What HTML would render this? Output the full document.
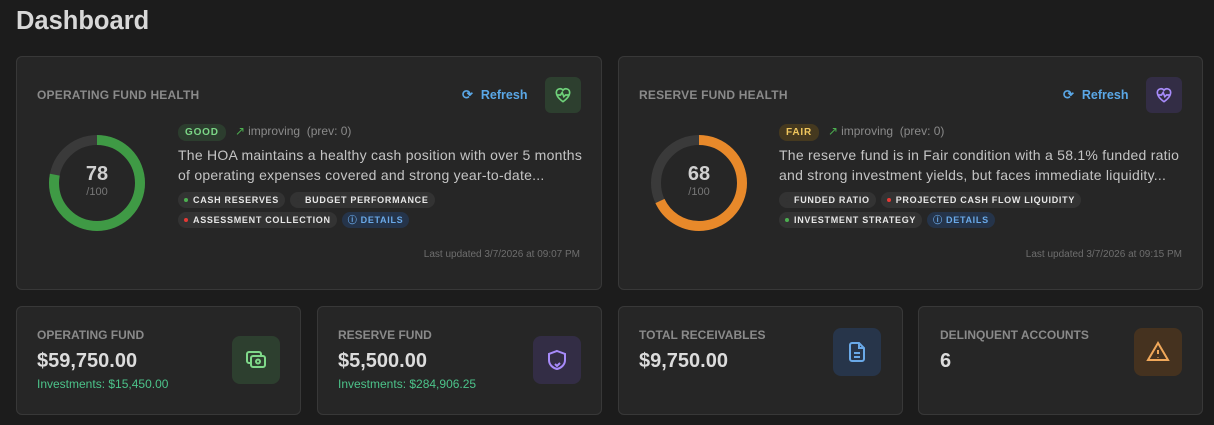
<!DOCTYPE html>
<html><head><style>
*{margin:0;padding:0;box-sizing:border-box}
body{width:1214px;height:425px;background:#1c1c1c;font-family:"Liberation Sans",sans-serif;position:relative;overflow:hidden;color:#ddd}
.a{position:absolute;white-space:nowrap}
.card{position:absolute;background:#262626;border:1px solid #383838;border-radius:6px}
.h{font-size:12px;font-weight:bold;color:#8a8a8a;letter-spacing:.2px}
.ref{font-size:12.5px;font-weight:bold;color:#5aa7e6}
.ib{position:absolute;width:36px;height:36px;border-radius:6px;display:flex;align-items:center;justify-content:center}
.badge{font-size:10px;font-weight:bold;letter-spacing:.8px;padding:3px 7px;border-radius:8px}
.imp{font-size:12px;color:#8a8a8a}
.desc{font-size:14px;color:#c4c4c4;line-height:20px;white-space:normal;letter-spacing:.25px}
.row{position:absolute;display:flex;gap:5px}
.tag{height:16px;border-radius:8px;background:#333;font-size:9px;font-weight:bold;letter-spacing:.7px;color:#e6e6e6;padding:0 6px;line-height:16px;white-space:nowrap}
.dot{display:inline-block;width:4px;height:4px;border-radius:50%;margin-right:5px;vertical-align:middle;position:relative;top:-1px}
.upd{font-size:10px;color:#6e6e6e}
.lab{font-size:12px;font-weight:bold;color:#8a8a8a}
.val{font-size:20px;font-weight:bold;color:#dcdcdc}
.inv{font-size:12px;color:#4cc38a}
.big{position:absolute;width:48px;height:48px;border-radius:8px;display:flex;align-items:center;justify-content:center}
</style></head><body>
<div class="a" style="left:16px;top:7px;font-size:25.5px;font-weight:bold;color:#d8d8d8">Dashboard</div>

<div class="card" style="left:16px;top:56px;width:586px;height:234px"></div>
<div class="card" style="left:618px;top:56px;width:585px;height:234px"></div>

<!-- Operating -->
<div class="a h" style="left:37px;top:88px">OPERATING FUND HEALTH</div>
<div class="a ref" style="left:462px;top:87px"><span style="font-size:13px;margin-right:8px">⟳</span>Refresh</div>
<div class="ib" style="left:545px;top:77px;background:#2d3f2f">
<svg width="20" height="20" viewBox="0 0 24 24" fill="none" stroke="#6fd27a" stroke-width="2"><path d="M12 20s-8-5-8-11a4.5 4.5 0 0 1 8-2.8A4.5 4.5 0 0 1 20 9c0 6-8 11-8 11z"/><path d="M5 12h4l2-3 2 5 2-2h4"/></svg></div>
<svg class="a" style="left:49px;top:135px" width="96" height="96"><circle cx="48" cy="48" r="43" fill="none" stroke="#3a3a3a" stroke-width="10"/><circle cx="48" cy="48" r="43" fill="none" stroke="#3f9a45" stroke-width="10" stroke-dasharray="210.7 270.2" transform="rotate(-90 48 48)"/></svg>
<div class="a" style="left:49px;top:163px;width:96px;text-align:center;font-size:20px;font-weight:bold;color:#d0d0d0">78</div>
<div class="a" style="left:49px;top:186px;width:96px;text-align:center;font-size:11px;color:#777">/100</div>
<div class="a badge" style="left:178px;top:124px;background:#2c3d2e;color:#7bd686">GOOD</div>
<div class="a imp" style="left:235px;top:124px"><span style="color:#4caf50;margin-right:3px">↗</span>improving&nbsp; (prev: 0)</div>
<div class="a desc" style="left:178px;top:145px;width:408px">The HOA maintains a healthy cash position with over 5 months of operating expenses covered and strong year-to-date...</div>
<div class="row" style="left:178px;top:192px"><div class="tag"><span class="dot" style="background:#4caf50"></span>CASH RESERVES</div><div class="tag"><span class="dot" style="background:#333"></span>BUDGET PERFORMANCE</div></div>
<div class="row" style="left:178px;top:212px"><div class="tag"><span class="dot" style="background:#e53935"></span>ASSESSMENT COLLECTION</div><div class="tag" style="background:#25344a;color:#6aa9e8">ⓘ DETAILS</div></div>
<div class="a upd" style="right:634px;top:249px">Last updated 3/7/2026 at 09:07 PM</div>

<!-- Reserve -->
<div class="a h" style="left:639px;top:88px">RESERVE FUND HEALTH</div>
<div class="a ref" style="left:1063px;top:87px"><span style="font-size:13px;margin-right:8px">⟳</span>Refresh</div>
<div class="ib" style="left:1146px;top:77px;background:#332d45">
<svg width="20" height="20" viewBox="0 0 24 24" fill="none" stroke="#a78bfa" stroke-width="2"><path d="M12 20s-8-5-8-11a4.5 4.5 0 0 1 8-2.8A4.5 4.5 0 0 1 20 9c0 6-8 11-8 11z"/><path d="M5 12h4l2-3 2 5 2-2h4"/></svg></div>
<svg class="a" style="left:651px;top:135px" width="96" height="96"><circle cx="48" cy="48" r="43" fill="none" stroke="#3a3a3a" stroke-width="10"/><circle cx="48" cy="48" r="43" fill="none" stroke="#e8892a" stroke-width="10" stroke-dasharray="183.7 270.2" transform="rotate(-90 48 48)"/></svg>
<div class="a" style="left:651px;top:163px;width:96px;text-align:center;font-size:20px;font-weight:bold;color:#d0d0d0">68</div>
<div class="a" style="left:651px;top:186px;width:96px;text-align:center;font-size:11px;color:#777">/100</div>
<div class="a badge" style="left:779px;top:124px;background:#45391f;color:#f0c75e">FAIR</div>
<div class="a imp" style="left:828px;top:124px"><span style="color:#4caf50;margin-right:3px">↗</span>improving&nbsp; (prev: 0)</div>
<div class="a desc" style="left:779px;top:145px;width:408px">The reserve fund is in Fair condition with a 58.1% funded ratio and strong investment yields, but faces immediate liquidity...</div>
<div class="row" style="left:779px;top:192px"><div class="tag"><span class="dot" style="background:#333"></span>FUNDED RATIO</div><div class="tag"><span class="dot" style="background:#e53935"></span>PROJECTED CASH FLOW LIQUIDITY</div></div>
<div class="row" style="left:779px;top:212px"><div class="tag"><span class="dot" style="background:#4caf50"></span>INVESTMENT STRATEGY</div><div class="tag" style="background:#25344a;color:#6aa9e8">ⓘ DETAILS</div></div>
<div class="a upd" style="right:32px;top:249px">Last updated 3/7/2026 at 09:15 PM</div>

<!-- bottom cards -->
<div class="card" style="left:16px;top:306px;width:285px;height:109px"></div>
<div class="card" style="left:317px;top:306px;width:285px;height:109px"></div>
<div class="card" style="left:618px;top:306px;width:285px;height:109px"></div>
<div class="card" style="left:918px;top:306px;width:285px;height:109px"></div>

<div class="a lab" style="left:37px;top:328px">OPERATING FUND</div>
<div class="a val" style="left:37px;top:350px">$59,750.00</div>
<div class="a inv" style="left:37px;top:377px">Investments: $15,450.00</div>
<div class="big" style="left:232px;top:336px;background:#2d3f2f"><svg width="24" height="24" viewBox="0 0 24 24" fill="none" stroke="#7fd98a" stroke-width="2"><rect x="7" y="8" width="14" height="11" rx="2"/><path d="M17 8V6a2 2 0 0 0-2-2H5a2 2 0 0 0-2 2v7a2 2 0 0 0 2 2h2"/><circle cx="14" cy="13.5" r="2"/></svg></div>

<div class="a lab" style="left:338px;top:328px">RESERVE FUND</div>
<div class="a val" style="left:338px;top:350px">$5,500.00</div>
<div class="a inv" style="left:338px;top:377px">Investments: $284,906.25</div>
<div class="big" style="left:533px;top:336px;background:#332d45"><svg width="24" height="24" viewBox="0 0 24 24" fill="none" stroke="#a78bfa" stroke-width="2"><path d="M12 3l8 3v6c0 5-4 8-8 9-4-1-8-4-8-9V6z"/><path d="M10 16l2 2 3-3"/></svg></div>

<div class="a lab" style="left:639px;top:328px">TOTAL RECEIVABLES</div>
<div class="a val" style="left:639px;top:350px">$9,750.00</div>
<div class="big" style="left:833px;top:328px;background:#27354a"><svg width="24" height="24" viewBox="0 0 24 24" fill="none" stroke="#6aa9e8" stroke-width="2"><path d="M14 3H7a2 2 0 0 0-2 2v14a2 2 0 0 0 2 2h10a2 2 0 0 0 2-2V8z"/><path d="M14 3v5h5M9 13h6M9 17h6"/></svg></div>

<div class="a lab" style="left:940px;top:328px">DELINQUENT ACCOUNTS</div>
<div class="a val" style="left:940px;top:350px">6</div>
<div class="big" style="left:1134px;top:328px;background:#45321f"><svg width="24" height="24" viewBox="0 0 24 24" fill="none" stroke="#f0a85a" stroke-width="2"><path d="M12 3L2 20h20z"/><path d="M12 10v4M12 17v.5"/></svg></div>
</body></html>
